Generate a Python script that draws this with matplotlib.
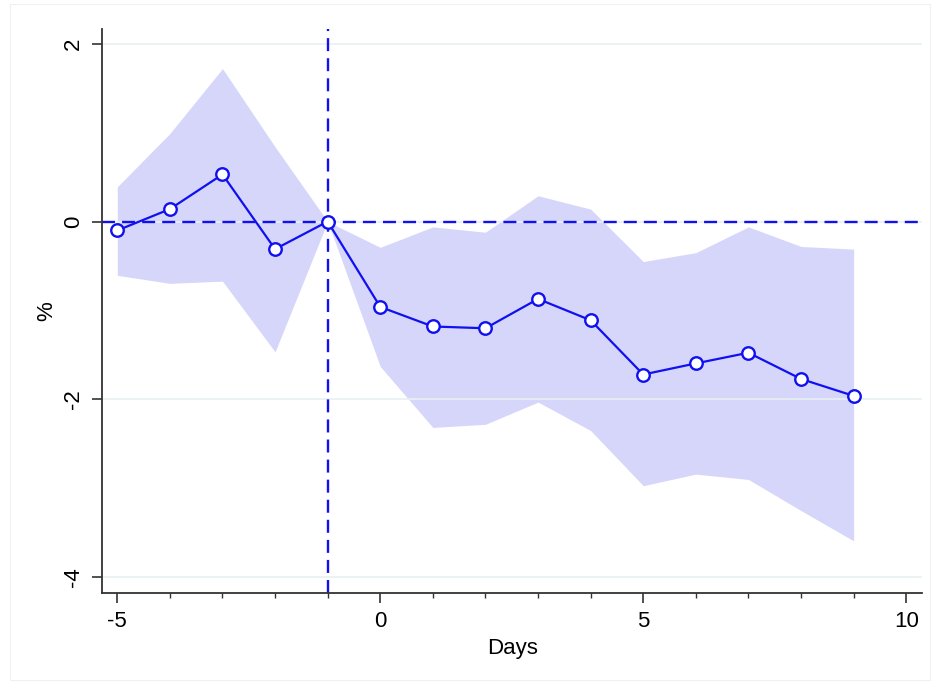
import matplotlib
matplotlib.use("Agg")
import matplotlib.pyplot as plt
from matplotlib.patches import Rectangle

days = [-5, -4, -3, -2, -1, 0, 1, 2, 3, 4, 5, 6, 7, 8, 9]
estimate = [-0.10, 0.14, 0.53, -0.31, 0.0, -0.96, -1.18, -1.20, -0.87, -1.11,
            -1.72, -1.595, -1.475, -1.77, -1.96]
upper = [0.39, 0.99, 1.72, 0.84, 0.0, -0.29, -0.06, -0.12, 0.29, 0.14,
         -0.45, -0.35, -0.06, -0.28, -0.31]
lower = [-0.605, -0.695, -0.67, -1.465, 0.0, -1.63, -2.315, -2.28, -2.03, -2.35,
         -2.97, -2.84, -2.90, -3.25, -3.59]
xticks = [-5, 0, 5, 10]
yticks = [2, 0, -2, -4]

plt.rcParams['font.family'] = ['Liberation Sans', 'DejaVu Sans']
plt.rcParams['axes.unicode_minus'] = False

fig = plt.figure(figsize=(9.34, 6.84), dpi=100)
fig.patches.append(Rectangle((10/934, 4/684), 920/934, 676/684, transform=fig.transFigure,
                             fill=False, edgecolor='#f0f0f0', linewidth=0.8))
ax = fig.add_axes([102.3/934, 1-593.3/684, (922-102.3)/934, (593.3-29)/684])

blue = '#1010f0'
ax.fill_between(days, lower, upper, color='#d6d6fa', linewidth=0, zorder=1)
for yv in yticks:
    ax.axhline(yv, color='#e8f0f2', linewidth=1.2, zorder=1.5)
ax.axhline(0, color=blue, linewidth=1.7, dashes=(5.5, 3.0), zorder=2)
ax.axvline(-1, color=blue, linewidth=1.7, dashes=(5.5, 3.0), zorder=2)
ax.plot(days, estimate, color=blue, linewidth=1.6, marker='o', markersize=9,
        markerfacecolor='white', markeredgecolor=blue, markeredgewidth=1.7, zorder=3)

ax.set_xlim(-5.285, 10.30)
ax.set_ylim(-4.18, 2.165)
ax.set_xticks(xticks)
ax.set_xticks(days + [10], minor=True)
ax.set_yticks(yticks)
ax.set_yticklabels([str(v) for v in yticks], rotation=90, va='center')
ax.tick_params(axis='both', which='major', length=7, width=1.2, color='#333333',
               labelsize=16, pad=6)
ax.tick_params(axis='x', which='minor', length=3.5, width=1.0, color='#333333')
ax.tick_params(axis='y', which='minor', left=False)

for s in ['top', 'right']:
    ax.spines[s].set_visible(False)
for s in ['left', 'bottom']:
    ax.spines[s].set_color('#333333')
    ax.spines[s].set_linewidth(1.3)

ax.set_xlabel('Days', fontsize=16, labelpad=4)
ax.set_ylabel('%', fontsize=16, labelpad=4)

fig.savefig('out.png', dpi=100)
